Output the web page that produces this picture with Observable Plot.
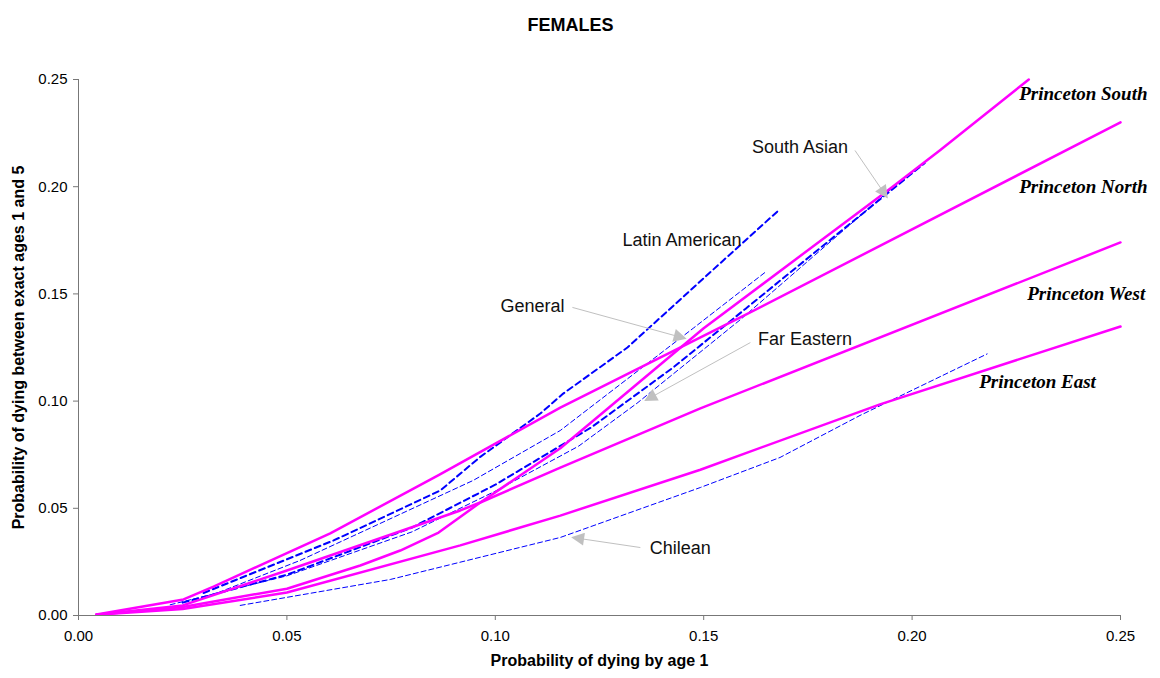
<!DOCTYPE html>
<html><head><meta charset="utf-8">
<script src="https://cdn.jsdelivr.net/npm/d3@7"></script>
<script src="https://cdn.jsdelivr.net/npm/@observablehq/plot@0.6"></script>
<style>body{margin:0;background:#fff;} #chart{width:1160px;height:678px;}</style>
</head><body><div id="chart"></div>
<script>
// ---- data: probability of dying by age 1 (q1) vs between ages 1 and 5 (4q1)
const northQ1 = [0.0043, 0.0252, 0.0324, 0.0604, 0.0864, 0.1156, 0.1588, 0.25];
const northQ4 = [0.0005, 0.0075, 0.0135, 0.0383, 0.0655, 0.097, 0.139, 0.230];
const southQ1 = [0.0043, 0.025, 0.05, 0.0676, 0.0772, 0.0864, 0.0964, 0.1156, 0.150, 0.194, 0.2067, 0.228];
const southQ4 = [0.0003, 0.004, 0.0125, 0.0233, 0.0303, 0.0387, 0.0527, 0.078, 0.134, 0.198, 0.217, 0.25];
const westQ1 = [0.0043, 0.025, 0.05, 0.0916, 0.0964, 0.1156, 0.1492, 0.25];
const westQ4 = [0.0004, 0.0047, 0.021, 0.049, 0.0527, 0.069, 0.0966, 0.174];
const eastQ1 = [0.0043, 0.025, 0.05, 0.0916, 0.1156, 0.1492, 0.1923, 0.25];
const eastQ4 = [0.0003, 0.003, 0.0107, 0.0327, 0.0466, 0.068, 0.0985, 0.1348];

const chileanQ1 = [0.0388, 0.0748, 0.1156, 0.1492, 0.1683, 0.1875, 0.218];
const chileanQ4 = [0.0047, 0.0168, 0.0364, 0.0597, 0.0737, 0.0933, 0.122];
const latinQ1 = [0.03, 0.0612, 0.0868, 0.0964, 0.1108, 0.1163, 0.1317, 0.1547, 0.168];
const latinQ4 = [0.0105, 0.035, 0.0583, 0.074, 0.0942, 0.1035, 0.125, 0.1656, 0.189];
const generalQ1 = [0.03, 0.0532, 0.0947, 0.1156, 0.1475, 0.1647];
const generalQ4 = [0.008, 0.0257, 0.063, 0.0863, 0.134, 0.160];
const southAsianQ1 = [0.025, 0.05, 0.08, 0.1, 0.123, 0.1427, 0.16, 0.203];
const southAsianQ4 = [0.006, 0.019, 0.041, 0.061, 0.0877, 0.1157, 0.143, 0.211];
const farEastQ1 = [0.022, 0.05, 0.08, 0.1, 0.12, 0.134, 0.1588, 0.198];
const farEastQ4 = [0.005, 0.0185, 0.039, 0.058, 0.079, 0.099, 0.138, 0.204];

const xTicks = [0, 0.05, 0.10, 0.15, 0.20, 0.25];
const yTicks = [0, 0.05, 0.10, 0.15, 0.20, 0.25];

// Princeton curve labels (data coordinates)
const princetonNames = ["Princeton South", "Princeton North", "Princeton West", "Princeton East"];
const princetonLabX = [0.2257, 0.2257, 0.2276, 0.2161];
const princetonLabY = [0.2435, 0.2001, 0.150, 0.109];

// UN pattern annotations
const annNames = ["South Asian", "Latin American", "General", "Far Eastern", "Chilean"];
const annX = [0.1731, 0.1448, 0.1089, 0.1743, 0.1444];
const annY = [0.2183, 0.1749, 0.1441, 0.1287, 0.0313];
const arrowFromX = [0.1863, 0.1185, 0.1612, 0.1348];
const arrowFromY = [0.2169, 0.1437, 0.1273, 0.0317];
const arrowToX = [0.194, 0.1456, 0.136, 0.1185];
const arrowToY = [0.195, 0.1292, 0.1003, 0.0364];

// ---- build tables
const pts = (xs, ys) => xs.map((x, i) => ({x, y: ys[i]}));
const magenta = "#FF00FF", blue = "#0000FF";
const princeton = [[northQ1, northQ4], [southQ1, southQ4], [westQ1, westQ4], [eastQ1, eastQ4]];
const thinUN = [[chileanQ1, chileanQ4], [generalQ1, generalQ4], [farEastQ1, farEastQ4]];
const heavyUN = [[latinQ1, latinQ4], [southAsianQ1, southAsianQ4]];
const princetonLabels = princetonNames.map((t, i) => ({t, x: princetonLabX[i], y: princetonLabY[i]}));
const annLabels = annNames.map((t, i) => ({t, x: annX[i], y: annY[i]}));
const arrows = arrowFromX.map((x1, i) => ({x1, y1: arrowFromY[i], x2: arrowToX[i], y2: arrowToY[i]}));

const chart = Plot.plot({
  width: 1160, height: 678,
  marginLeft: 78, marginRight: 40, marginTop: 79, marginBottom: 63,
  style: {fontFamily: "'Liberation Sans', Arial, sans-serif", fontSize: "15px", color: "#000", background: "#fff", overflow: "visible"},
  x: {domain: [0, 0.25], ticks: xTicks, tickFormat: d3.format(".2f"), tickSize: 5, tickPadding: 10, label: null},
  y: {domain: [0, 0.25], ticks: yTicks, tickFormat: d3.format(".2f"), tickSize: 5, tickPadding: 6, label: null},
  marks: [
    ...thinUN.map(([xs, ys]) => Plot.line(pts(xs, ys), {x: "x", y: "y", stroke: blue, strokeWidth: 1, strokeDasharray: "5,3"})),
    ...heavyUN.map(([xs, ys]) => Plot.line(pts(xs, ys), {x: "x", y: "y", stroke: blue, strokeWidth: 2, strokeDasharray: "6,4"})),
    ...princeton.map(([xs, ys]) => Plot.line(pts(xs, ys), {x: "x", y: "y", stroke: magenta, strokeWidth: 2.5})),
    Plot.ruleY([0], {stroke: "#777"}),
    Plot.ruleX([0], {stroke: "#777"}),
    Plot.link(arrows, {x1: "x1", y1: "y1", x2: "x2", y2: "y2", stroke: "#C0C0C0", strokeWidth: 1}),
    Plot.text(annLabels, {x: "x", y: "y", text: "t", fontSize: 18, fill: "#111"}),
    Plot.text(princetonLabels, {x: "x", y: "y", text: "t", textAnchor: "start", fontSize: 19, fontWeight: "bold", fontStyle: "italic", fontFamily: "'Liberation Serif', 'Times New Roman', serif", fill: "#000"}),
    Plot.text(["FEMALES"], {frameAnchor: "top", dy: -61, dx: -29, fontWeight: "bold", fontSize: 18}),
    Plot.text(["Probability of dying by age 1"], {frameAnchor: "bottom", dy: 50, textAnchor: "middle", fontWeight: "bold", fontSize: 16}),
    Plot.text(["Probability of dying between exact ages 1 and 5"], {frameAnchor: "left", dx: -60, rotate: -90, textAnchor: "middle", fontWeight: "bold", fontSize: 16})
  ]
});
document.getElementById("chart").appendChild(chart);

// styling: gray axis ticks, filled arrowheads
const svg = d3.select(chart);
svg.selectAll('g[aria-label*="axis"] line, g[aria-label*="axis"] path').attr("stroke", "#777");
svg.append("defs").append("marker")
  .attr("id", "ahead").attr("viewBox", "0 0 10 10").attr("refX", 9).attr("refY", 5)
  .attr("markerUnits", "userSpaceOnUse").attr("markerWidth", 15).attr("markerHeight", 13)
  .attr("orient", "auto")
  .append("path").attr("d", "M0,0L10,5L0,10Z").attr("fill", "#C0C0C0");
svg.selectAll('g[aria-label="link"] path').attr("marker-end", "url(#ahead)");
</script></body></html>
